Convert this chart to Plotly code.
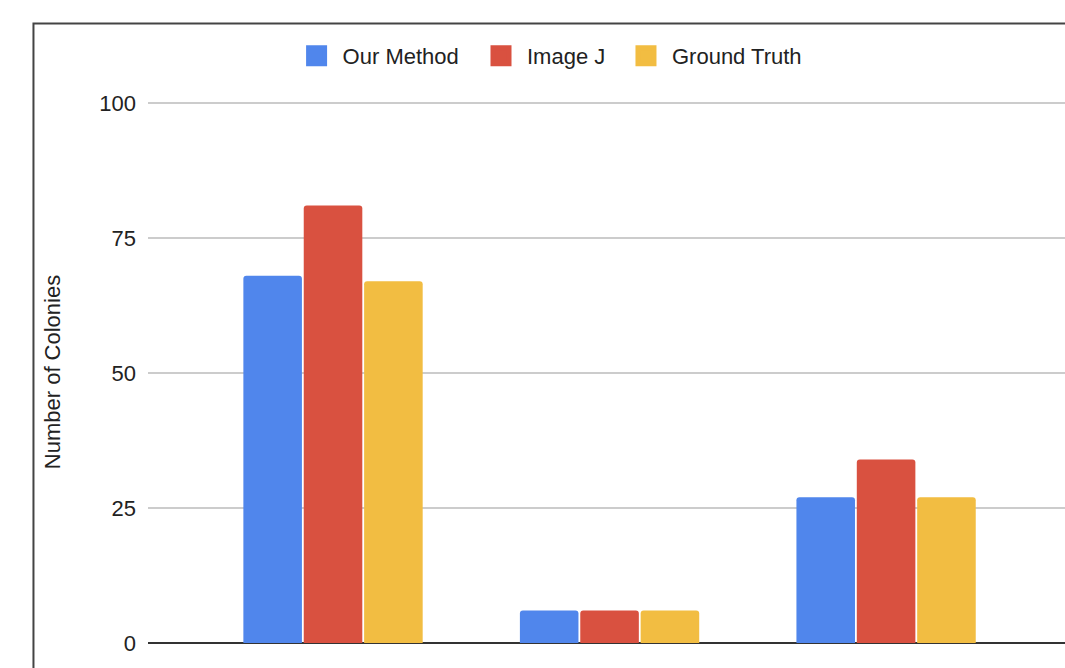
import plotly.graph_objects as go

categories = ["Sample 1", "Sample 2", "Sample 3"]
series_names = ["Our Method", "Image J", "Ground Truth"]
our_method = [68, 6, 27]
image_j = [81, 6, 34]
ground_truth = [67, 6, 27]
colors = ["#5086EC", "#D95140", "#F2BD42"]
y_ticks = [0, 25, 50, 75, 100]

FONT = "Liberation Sans, Arial, Helvetica, sans-serif"
FS = 22
TXT = "#222222"

fig = go.Figure()
for name, vals, col in zip(series_names, [our_method, image_j, ground_truth], colors):
    fig.add_trace(go.Bar(x=categories, y=vals, name=name, marker=dict(color=col, line=dict(width=0)),
                         showlegend=False))

# legend entries (larger square swatches), one legend box per entry
legend_ids = ["legend", "legend2", "legend3"]
legend_x = [0.1555, 0.3566, 0.5147]
for name, col, lid in zip(series_names, colors, legend_ids):
    fig.add_trace(go.Scatter(x=[None], y=[None], mode="markers", name=name, legend=lid,
                             marker=dict(symbol="square", size=16, color=col,
                                         line=dict(color=col, width=5))))

legend_common = dict(orientation="h", xanchor="left", y=1.083, yanchor="middle",
                     font=dict(family=FONT, size=FS, color=TXT), itemwidth=42,
                     bgcolor="rgba(0,0,0,0)")

fig.update_layout(
    width=1065, height=668,
    margin=dict(l=148, r=0, t=101, b=25),
    paper_bgcolor="white", plot_bgcolor="white",
    barmode="group", bargap=0.345, bargroupgap=0.03, barcornerradius=3,
    font=dict(family=FONT, size=FS, color=TXT),
    showlegend=True,
    legend=dict(x=legend_x[0], **legend_common),
    legend2=dict(x=legend_x[1], **legend_common),
    legend3=dict(x=legend_x[2], **legend_common),
    xaxis=dict(type="category", range=[-0.6691, 2.647], showticklabels=False, showgrid=False,
               showline=False, zeroline=False, fixedrange=True),
    yaxis=dict(range=[0, 100.37], tickvals=y_ticks, showgrid=True, gridcolor="#CCCCCC", gridwidth=1.5,
               zeroline=True, zerolinecolor="#333333", zerolinewidth=2,
               showline=False, ticklabelstandoff=11,
               title=dict(text="Number of Colonies", font=dict(family=FONT, size=FS, color=TXT),
                          standoff=32)),
    shapes=[dict(type="rect", xref="paper", yref="paper", x0=-0.1249, x1=1.2, y0=-0.3, y1=1.143,
                 line=dict(color="#444444", width=2), fillcolor="rgba(0,0,0,0)", layer="above")],
)

fig.write_html("out.html")
